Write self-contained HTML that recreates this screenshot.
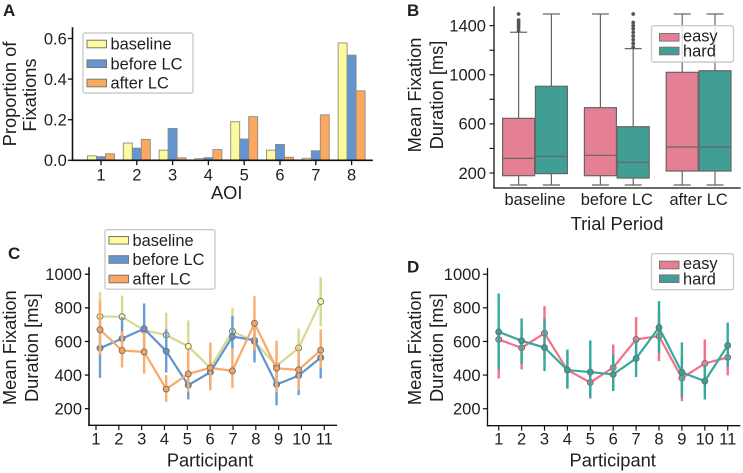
<!DOCTYPE html>
<html><head><meta charset="utf-8">
<style>
html,body{margin:0;padding:0;background:#fff;width:743px;height:473px;overflow:hidden}
svg{display:block;filter:blur(0.3px)}
text{font-family:"Liberation Sans",sans-serif;fill:#1f1f1f}
</style></head>
<body>
<svg id="fig" width="743" height="473" viewBox="0 0 743 473" xmlns="http://www.w3.org/2000/svg"></svg>
<script>
// Panel A data
const aoiCategories = ['1','2','3','4','5','6','7','8'];
const aBaseline = [0.022,0.085,0.05,0.008,0.19,0.05,0.01,0.578];
const aBefore = [0.018,0.06,0.157,0.013,0.105,0.078,0.047,0.518];
const aAfter = [0.032,0.103,0.012,0.053,0.215,0.015,0.224,0.342];
const aYTicks = [0,0.2,0.4,0.6];
const aYLabels = ['0.0','0.2','0.4','0.6'];
// Panel B data
const periodCategories = ['baseline','before LC','after LC'];
const bYTicks = [200,400,600,800,1000,1200,1400];
const bYLabels = ['200','','600','','1000','','1400'];
const easyBoxQ1 = [178,178,216];
const easyBoxMedian = [319,344,412];
const easyBoxQ3 = [645,732,1020];
const easyBoxLow = [102,102,102];
const easyBoxHigh = [1346,1495,1495];
const hardBoxQ1 = [195,159,216];
const hardBoxMedian = [336,287,412];
const hardBoxQ3 = [906,577,1033];
const hardBoxLow = [102,102,102];
const hardBoxHigh = [1495,1213,1495];
const easyFliers = [[1360,1385,1405,1425,1445,1495],[],[]];
const hardFliers = [[],[1225,1255,1285,1315,1345,1375,1400,1425,1495],[]];
// Panels C and D data
const participants = ['1','2','3','4','5','6','7','8','9','10','11'];
const durationTicks = [200,400,600,800,1000];
const cBaseline = [749,747,666,638,571,443,660,600,455,561,838];
const cBaselineLow = [600,620,570,510,420,350,520,500,320,450,690];
const cBaselineHigh = [893,873,760,771,725,560,800,700,600,676,982];
const cBefore = [560,617,676,542,340,417,629,607,344,397,504];
const cBeforeLow = [384,490,530,415,255,310,557,475,220,281,380];
const cBeforeHigh = [740,745,826,672,420,530,751,730,450,500,620];
const cAfter = [670,546,538,317,407,443,425,708,441,431,548];
const cAfterLow = [518,445,409,241,300,310,324,547,300,310,443];
const cAfterHigh = [844,660,656,400,547,593,554,869,604,567,672];
const dEasy = [612,562,649,430,356,445,612,632,382,469,505];
const dEasyLow = [380,434,500,320,259,320,480,483,245,340,398];
const dEasyHigh = [560,680,810,540,480,582,745,780,520,612,610];
const dHard = [657,604,564,430,418,404,499,683,416,364,576];
const dHardLow = [434,465,424,319,267,305,388,532,269,255,449];
const dHardHigh = [885,737,735,552,606,523,610,840,594,460,713];

// Axis functions
function aX(i){return 101+35.8*i;}
function aY(v){return 160.3-v*203;}
function bX(i){return 535+81.8*i;}
function bY(v){return 173-(v-200)*0.1228;}
function cTickX(i){return 96+22.83*i;}
function cMarkX(i){return 100+22.07*i;}
function durY(v){return 408.7-(v-200)*0.1681;}
function dX(i){return 498.7+22.9*i;}

const NS='http://www.w3.org/2000/svg';
const fig=document.getElementById('fig');
function mk(parent,tag,attrs,txt){
  const e=document.createElementNS(NS,tag);
  for(const k in attrs)e.setAttribute(k,attrs[k]);
  if(txt!==undefined)e.textContent=txt;
  parent.appendChild(e);
  return e;
}
function group(name){
  const g=mk(fig,'g',{});
  
  
  return g;
}
function label(parent,name,x,y,str,size,anchor,weight,rot){
  const a={x:x,y:y,'font-size':size,'text-anchor':anchor||'middle'};
  if(weight)a['font-weight']=weight;
  if(rot)a.transform='rotate(-90 '+x+' '+y+')';
  const t=mk(parent,'text',a,str);
  
  
  return t;
}
function axisLine(parent,name,x1,y1,x2,y2,w){
  const l=mk(parent,'line',{x1:x1,y1:y1,x2:x2,y2:y2,stroke:'#111','stroke-width':w||1.6,'stroke-linecap':'square'});
  
  
  return l;
}
function legend(parent,name,x,y,w,h,px,tx,rows,labels,colors,fs){
  const g=mk(parent,'g',{});
  
  
  mk(g,'rect',{x:x,y:y,width:w,height:h,rx:2,fill:'#fff','fill-opacity':0.8,stroke:'#ccc','stroke-width':1.4});
  labels.forEach(function(s,i){
    const p=mk(g,'rect',{x:px,y:rows[i]-3.8,width:19.5,height:7.6,fill:colors[i],stroke:'#777','stroke-width':1});
    
    
    label(g,'legend-entry',tx,rows[i]+(s==='easy'?4:5.6),s,fs,'start');
  });
}
function pointSeries(parent,name,xf,vals,lows,highs,lineCol,errCol,fill){
  const g=mk(parent,'g',{});
  
  
  vals.forEach(function(v,i){
    const e=mk(g,'line',{x1:xf(i),x2:xf(i),y1:durY(lows[i]),y2:durY(highs[i]),stroke:errCol,'stroke-width':2.4});
    
    
  });
  const pl=mk(g,'polyline',{points:vals.map(function(v,i){return xf(i)+','+durY(v);}).join(' '),fill:'none',stroke:lineCol,'stroke-width':2.2});
  
  
  vals.forEach(function(v,i){
    const c=mk(g,'circle',{cx:xf(i),cy:durY(v),r:3,fill:fill,stroke:'#6e6e6e','stroke-width':0.9});
    
    
  });
}
const FS=16.5, TS=18.3, LS=16.4, PS=17;

// ---------- Panel A
const pA=group('panel-a');
label(pA,'panel-label-a',3,16,'A',PS,'start','bold');
[[aBaseline,'#fbfb9e',-1],[aBefore,'#6495cf',0],[aAfter,'#fda85f',1]].forEach(function(s){
  s[0].forEach(function(v,i){
    const r=mk(pA,'rect',{x:aX(i)+s[2]*9-4.5,y:aY(v),width:9,height:aY(0)-aY(v),fill:s[1],stroke:'#8a8a8a','stroke-width':0.9});
    
    
  });
});
axisLine(pA,'y-axis',72.5,28,72.5,160.3);
axisLine(pA,'x-axis',72.5,160.3,372,160.3);
aYTicks.forEach(function(v,i){
  axisLine(pA,'y-tick',68.5,aY(v),72.5,aY(v),1.3);
  label(pA,'y-tick-label',66.8,aY(v)+5.8,aYLabels[i],FS,'end');
});
aoiCategories.forEach(function(c,i){
  axisLine(pA,'x-tick',aX(i),160.3,aX(i),164.5,1.3);
  label(pA,'x-tick-label',aX(i),180.5,c,FS);
});
label(pA,'y-axis-title',16,94,'Proportion of',TS,'middle',null,true);
label(pA,'y-axis-title',36,95,'Fixations',TS,'middle',null,true);
label(pA,'x-axis-title',226.7,199,'AOI',TS);
legend(pA,'legend-a',83,33,110,60,87,110.5,[44,63.7,83],['baseline','before LC','after LC'],['#fbfb9e','#6495cf','#fda85f'],LS);

// ---------- Panel B
const pB=group('panel-b');
function drawBoxes(name,offset,col,q1,med,q3,lo,hi,fl){
  periodCategories.forEach(function(c,i){
    const x=bX(i)+offset, L=x-16, g=mk(pB,'g',{});
    
    
    const st={stroke:'#666','stroke-width':1.2};
    mk(g,'line',Object.assign({x1:x,x2:x,y1:bY(hi[i]),y2:bY(q3[i])},st));
    mk(g,'line',Object.assign({x1:x,x2:x,y1:bY(lo[i]),y2:bY(q1[i])},st));
    mk(g,'line',Object.assign({x1:x-8.5,x2:x+8.5,y1:bY(hi[i]),y2:bY(hi[i])},st));
    mk(g,'line',Object.assign({x1:x-8.5,x2:x+8.5,y1:bY(lo[i]),y2:bY(lo[i])},st));
    mk(g,'rect',Object.assign({x:L,y:bY(q3[i]),width:32,height:bY(q1[i])-bY(q3[i]),fill:col},st));
    mk(g,'line',Object.assign({x1:L,x2:L+32,y1:bY(med[i]),y2:bY(med[i])},st));
    fl[i].forEach(function(v){
      const f=mk(g,'circle',{cx:x,cy:bY(v),r:1.9,fill:'#555'});
      
      
    });
  });
}
drawBoxes('box-easy',-16.4,'#e57f93',easyBoxQ1,easyBoxMedian,easyBoxQ3,easyBoxLow,easyBoxHigh,easyFliers);
drawBoxes('box-hard',16.4,'#419e95',hardBoxQ1,hardBoxMedian,hardBoxQ3,hardBoxLow,hardBoxHigh,hardFliers);
label(pB,'panel-label-b',407,16,'B',PS,'start','bold');
axisLine(pB,'y-axis',494,7,494,188,1.3);
axisLine(pB,'x-axis',494,188,740,188,1.3);
bYTicks.forEach(function(v,i){
  axisLine(pB,'y-tick',490,bY(v),494,bY(v),1.1);
  if(bYLabels[i])label(pB,'y-tick-label',486,bY(v)+5.8,bYLabels[i],FS,'end');
});
periodCategories.forEach(function(c,i){
  label(pB,'x-tick-label',bX(i),205,c,LS);
});
label(pB,'y-axis-title',421,95,'Mean Fixation',TS,'middle',null,true);
label(pB,'y-axis-title',443,95,'Duration [ms]',TS,'middle',null,true);
label(pB,'x-axis-title',617,230,'Trial Period',TS);
legend(pB,'legend-b',651.5,25.7,82,36.3,659.5,683,[37.3,51],['easy','hard'],['#e57f93','#419e95'],LS);

// ---------- Panel C
const pC=group('panel-c');
label(pC,'panel-label-c',8,259,'C',PS,'start','bold');
pointSeries(pC,'series-baseline',cMarkX,cBaseline,cBaselineLow,cBaselineHigh,'#d8d98f','#d8d98f','#fbfb9e');
pointSeries(pC,'series-before-lc',cMarkX,cBefore,cBeforeLow,cBeforeHigh,'#5f94d4','#6a9cd8','#6495cf');
pointSeries(pC,'series-after-lc',cMarkX,cAfter,cAfterLow,cAfterHigh,'#f9a868','#f9ae70','#f5a35f');
axisLine(pC,'y-axis',89,268,89,425.3);
axisLine(pC,'x-axis',89,425.3,336.5,425.3,1.3);
durationTicks.forEach(function(v){
  axisLine(pC,'y-tick',85.5,durY(v),89,durY(v),1.3);
  label(pC,'y-tick-label',82,durY(v)+5.8,String(v),FS,'end');
});
participants.forEach(function(p,i){
  axisLine(pC,'x-tick',cTickX(i),425.3,cTickX(i),429.5,1.2);
  label(pC,'x-tick-label',cTickX(i),444.5,p,FS);
});
label(pC,'y-axis-title',16,347.7,'Mean Fixation',TS,'middle',null,true);
label(pC,'y-axis-title',38,347.7,'Duration [ms]',TS,'middle',null,true);
label(pC,'x-axis-title',210,466.7,'Participant',TS);
legend(pC,'legend-c',105,229.7,110,59.5,109,132.5,[240.3,259.5,279],['baseline','before LC','after LC'],['#fbfb9e','#6495cf','#fda85f'],LS);

// ---------- Panel D
const pD=group('panel-d');
label(pD,'panel-label-d',407,272.7,'D',PS,'start','bold');
pointSeries(pD,'series-easy',dX,dEasy,dEasyLow,dEasyHigh,'#f76f86','#f76f86','#e5809a');
pointSeries(pD,'series-hard',dX,dHard,dHardLow,dHardHigh,'#32ab9f','#32ab9f','#3a9f94');
axisLine(pD,'y-axis',487.5,268.7,487.5,425.7,1.3);
axisLine(pD,'x-axis',487.5,425.7,739.7,425.7,1.3);
durationTicks.forEach(function(v){
  axisLine(pD,'y-tick',483.5,durY(v),487.5,durY(v),1.2);
  label(pD,'y-tick-label',480.5,durY(v)+5.8,String(v),FS,'end');
});
participants.forEach(function(p,i){
  axisLine(pD,'x-tick',dX(i),425.7,dX(i),430,1.2);
  label(pD,'x-tick-label',dX(i),444.7,p,FS);
});
label(pD,'y-axis-title',421,347.7,'Mean Fixation',TS,'middle',null,true);
label(pD,'y-axis-title',443,347.7,'Duration [ms]',TS,'middle',null,true);
label(pD,'x-axis-title',612.7,466.7,'Participant',TS);
legend(pD,'legend-d',651.5,253.7,82,36,659.5,683,[265,278.7],['easy','hard'],['#e57f93','#419e95'],LS);
</script>
</body></html>
